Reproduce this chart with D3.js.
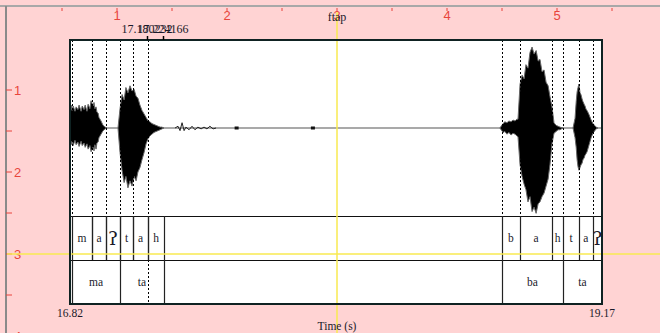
<!DOCTYPE html>
<html>
<head>
<meta charset="utf-8">
<script src="https://cdn.jsdelivr.net/npm/d3@7"></script>
<style>
  body { margin: 0; background: #ffd3d3; }
  svg { display: block; }
  text { font-family: "Liberation Serif", "DejaVu Serif", serif; fill: #1a1a2a; }
</style>
</head>
<body>
<div id="picture"></div>
<script>
// time domain of the drawing
var time_domain = [16.82, 19.17];

// tier 1 (phones)
var phone_labels = ['m', 'a', 'ʔ', 't', 'a', 'h', 'b', 'a', 'h', 't', 'a', 'ʔ'];
var phone_starts = [16.829, 16.917, 16.979, 17.041, 17.098, 17.165, 18.728, 18.808, 18.949, 18.998, 19.068, 19.130];
var phone_ends   = [16.917, 16.979, 17.041, 17.098, 17.165, 17.235, 18.808, 18.949, 18.998, 19.068, 19.130, 19.170];

// tier 2 (syllables)
var syl_labels = ['ma', 'ta', 'ba', 'ta'];
var syl_starts = [16.829, 17.041, 18.728, 18.998];
var syl_ends   = [17.041, 17.235, 18.998, 19.170];

// selection marks on top
var mark_times  = [17.160, 17.231];
var mark_labels = ['17.180232', '17.224166'];

// waveform envelope: [time, max, min]
var burst_ma1 = [[16.820,0.18,-0.16],[16.825,0.26,-0.19],[16.829,0.20,-0.15],[16.834,0.25,-0.20],[16.842,0.19,-0.14],
                 [16.847,0.24,-0.19],[16.855,0.21,-0.16],[16.860,0.26,-0.21],[16.869,0.19,-0.15],[16.874,0.25,-0.20],
                 [16.882,0.21,-0.17],[16.887,0.26,-0.22],[16.895,0.19,-0.18],[16.900,0.27,-0.24],[16.908,0.22,-0.20],
                 [16.913,0.31,-0.27],[16.922,0.25,-0.22],[16.926,0.29,-0.26],[16.930,0.22,-0.19],[16.935,0.24,-0.24],
                 [16.939,0.18,-0.17],[16.944,0.17,-0.16],[16.948,0.12,-0.11],[16.957,0.08,-0.07],[16.966,0.03,-0.03],
                 [16.975,0.01,-0.01],[16.983,0,0]];
var burst_ta1 = [[17.032,0,0],[17.041,0.22,-0.28],[17.050,0.38,-0.48],[17.059,0.32,-0.62],[17.067,0.46,-0.55],
                 [17.076,0.40,-0.68],[17.085,0.48,-0.60],[17.094,0.42,-0.66],[17.103,0.44,-0.55],[17.112,0.36,-0.60],
                 [17.120,0.34,-0.50],[17.129,0.26,-0.45],[17.138,0.20,-0.36],[17.147,0.16,-0.28],[17.156,0.12,-0.18],
                 [17.165,0.08,-0.12],[17.173,0.07,-0.09],[17.182,0.05,-0.07],[17.191,0.04,-0.05],[17.200,0.03,-0.04],
                 [17.209,0.02,-0.03],[17.218,0.01,-0.02],[17.226,0.01,-0.01],[17.235,0,0]];
var burst_ba2 = [[18.719,0,0],[18.733,0.05,-0.05],[18.741,0.07,-0.04],[18.750,0.06,-0.07],[18.759,0.08,-0.05],
                 [18.768,0.07,-0.08],[18.777,0.09,-0.06],[18.786,0.08,-0.07],[18.794,0.10,-0.09],
                 [18.799,0.10,-0.10],[18.808,0.50,-0.42],[18.817,0.60,-0.55],[18.826,0.56,-0.64],[18.834,0.72,-0.70],
                 [18.843,0.68,-0.84],[18.852,0.86,-0.78],[18.861,0.92,-0.95],[18.870,0.84,-0.90],[18.879,0.88,-0.97],
                 [18.888,0.76,-0.86],[18.896,0.78,-0.84],[18.905,0.64,-0.78],[18.914,0.66,-0.74],[18.923,0.52,-0.66],
                 [18.932,0.48,-0.58],[18.940,0.36,-0.42],[18.949,0.24,-0.18],[18.958,0.06,-0.06],[18.967,0.03,-0.04],
                 [18.976,0.02,-0.02],[18.984,0.01,-0.02],[18.998,0,0]];
var burst_ta2 = [[19.042,0,0],[19.051,0.11,-0.11],[19.056,0.30,-0.22],[19.060,0.41,-0.36],[19.064,0.46,-0.44],
                 [19.068,0.50,-0.48],[19.073,0.40,-0.45],[19.077,0.38,-0.42],[19.082,0.33,-0.40],[19.086,0.30,-0.36],
                 [19.091,0.27,-0.34],[19.095,0.25,-0.31],[19.100,0.21,-0.29],[19.104,0.20,-0.27],[19.113,0.15,-0.19],
                 [19.122,0.09,-0.11],[19.130,0.05,-0.06],[19.144,0.01,-0.01],[19.152,0,0]];

// low level ripple after "tah": [time, value]
var ripple = [[17.284,0],[17.297,0.02],[17.306,-0.03],[17.315,0.06],[17.324,-0.03],[17.332,0.01],[17.346,-0.02],
              [17.359,0.02],[17.372,-0.02],[17.385,0.01],[17.399,-0.01],[17.412,0.01],[17.425,-0.01],[17.438,0.02],
              [17.452,-0.01],[17.465,0]];
var blips = [17.556, 17.893];

// rulers (inches)
var ruler_x_ticks = [0.5, 1, 1.5, 2, 2.5, 3, 3.5, 4, 4.5, 5, 5.5];
var ruler_x_labels = [1, 2, 3, 4, 5];
var ruler_y_ticks = [1, 1.5, 2, 2.5, 3, 3.5, 4];
var ruler_y_labels = [1, 2, 3, 4];

var width = 660, height = 333;
var box = { left: 70, right: 602, top: 40, bottom: 304 };
var tier1_top = 216, tier2_top = 260;

var svg = d3.select('#picture').append('svg')
    .attr('width', width)
    .attr('height', height);

var ruler_x = d3.scaleLinear().domain([0, 6]).range([7, 667]);
var ruler_y = d3.scaleLinear().domain([0, 4]).range([8, 336]);

var x = d3.scaleLinear().domain(time_domain).range([box.left, box.right]);
var y = d3.scaleLinear().domain([-1, 1]).range([tier1_top, box.top]);

// ruler frame
svg.append('line').attr('x1', 0).attr('x2', width).attr('y1', 6).attr('y2', 6)
   .attr('stroke', '#a8a8a8').attr('stroke-width', 2);
svg.append('line').attr('x1', 6).attr('x2', 6).attr('y1', 6).attr('y2', height)
   .attr('stroke', '#8a8a8a').attr('stroke-width', 2);

var red = '#e8453c';
svg.append('g').selectAll('line').data(ruler_x_ticks).join('line')
   .attr('x1', d => ruler_x(d)).attr('x2', d => ruler_x(d))
   .attr('y1', 8).attr('y2', 11)
   .attr('stroke', red);
svg.append('g').selectAll('text').data(ruler_x_labels).join('text')
   .attr('x', d => ruler_x(d)).attr('y', 20)
   .attr('text-anchor', 'middle')
   .style('font-family', 'Liberation Sans, Arial, sans-serif')
   .style('font-size', '13px').style('fill', red)
   .text(d => d);
svg.append('g').selectAll('line').data(ruler_y_ticks).join('line')
   .attr('x1', 6).attr('x2', 12)
   .attr('y1', d => ruler_y(d)).attr('y2', d => ruler_y(d))
   .attr('stroke', red);
svg.append('g').selectAll('text').data(ruler_y_labels).join('text')
   .attr('x', 14).attr('y', d => ruler_y(d) + 5)
   .style('font-family', 'Liberation Sans, Arial, sans-serif')
   .style('font-size', '13px').style('fill', red)
   .text(d => d);

// white drawing box
svg.append('rect')
   .attr('x', box.left).attr('y', box.top)
   .attr('width', box.right - box.left).attr('height', box.bottom - box.top)
   .attr('fill', '#fff');

// baseline
svg.append('line')
   .attr('x1', x(time_domain[0])).attr('x2', x(time_domain[1]))
   .attr('y1', y(0)).attr('y2', y(0))
   .attr('stroke', '#8c8c8c').attr('stroke-width', 1.5);

var area = d3.area()
    .x(d => x(d[0]))
    .y0(d => y(d[2]))
    .y1(d => y(d[1]));

svg.append('g').selectAll('path')
   .data([burst_ma1, burst_ta1, burst_ba2, burst_ta2]).join('path')
   .attr('d', area)
   .attr('fill', '#000')
   .attr('stroke', '#666')
   .attr('stroke-width', 1);

svg.append('path')
   .attr('d', d3.line().x(d => x(d[0])).y(d => y(d[1]))(ripple))
   .attr('fill', 'none').attr('stroke', '#222').attr('stroke-width', 1);

svg.append('g').selectAll('rect').data(blips).join('rect')
   .attr('x', d => x(d) - 2).attr('y', y(0) - 1.5)
   .attr('width', 4).attr('height', 3)
   .attr('fill', '#111');

// dotted boundary lines through the waveform
svg.append('g').selectAll('line').data(phone_starts).join('line')
   .attr('x1', d => Math.round(x(d)) + 0.5).attr('x2', d => Math.round(x(d)) + 0.5)
   .attr('y1', box.top).attr('y2', tier1_top)
   .attr('stroke', '#000').attr('stroke-dasharray', '2,2');

// dotted cursor through tier 2
svg.append('line')
   .attr('x1', Math.round(x(phone_starts[5])) + 0.5).attr('x2', Math.round(x(phone_starts[5])) + 0.5)
   .attr('y1', tier2_top).attr('y2', box.bottom)
   .attr('stroke', '#000').attr('stroke-dasharray', '2,2');

// tiers
svg.append('g').selectAll('line').data([tier1_top, tier2_top]).join('line')
   .attr('x1', box.left).attr('x2', box.right)
   .attr('y1', d => d + 0.5).attr('y2', d => d + 0.5)
   .attr('stroke', '#111').attr('stroke-width', 1.2);

var tier1_bounds = phone_starts.concat(phone_ends.slice(0, 6));
svg.append('g').selectAll('line').data(tier1_bounds).join('line')
   .attr('x1', d => Math.round(x(d)) + 0.5).attr('x2', d => Math.round(x(d)) + 0.5)
   .attr('y1', tier1_top).attr('y2', tier2_top)
   .attr('stroke', '#222').attr('stroke-width', 1.2);

var tier2_bounds = syl_starts.concat([syl_ends[1]]);
svg.append('g').selectAll('line').data(tier2_bounds).join('line')
   .attr('x1', d => Math.round(x(d)) + 0.5).attr('x2', d => Math.round(x(d)) + 0.5)
   .attr('y1', tier2_top).attr('y2', box.bottom)
   .attr('stroke', '#222').attr('stroke-width', 1.2);

svg.append('g').selectAll('text').data(phone_labels).join('text')
   .attr('x', (d, i) => (x(phone_starts[i]) + x(phone_ends[i])) / 2)
   .attr('y', d => d === 'ʔ' ? 245 : 242)
   .attr('text-anchor', 'middle')
   .style('font-size', d => d === 'ʔ' ? '19px' : '11.5px')
   .style('font-family', d => d === 'ʔ' ? 'DejaVu Serif, serif' : null)
   .text(d => d);

svg.append('g').selectAll('text').data(syl_labels).join('text')
   .attr('x', (d, i) => (x(syl_starts[i]) + x(syl_ends[i])) / 2)
   .attr('y', 286)
   .attr('text-anchor', 'middle')
   .style('font-size', '11.5px')
   .text(d => d);

// yellow crosshair
svg.append('line').attr('x1', ruler_x(3)).attr('x2', ruler_x(3)).attr('y1', 12).attr('y2', height)
   .attr('stroke', '#f8ea50').attr('stroke-width', 1.5);
svg.append('line').attr('x1', 7).attr('x2', width).attr('y1', ruler_y(3)).attr('y2', ruler_y(3))
   .attr('stroke', '#f8ea50').attr('stroke-width', 1.5);

// box frame
svg.append('rect')
   .attr('x', box.left).attr('y', box.top)
   .attr('width', box.right - box.left).attr('height', box.bottom - box.top)
   .attr('fill', 'none').attr('stroke', '#0f2222').attr('stroke-width', 2);

// selection marks above the box
svg.append('g').selectAll('line').data(mark_times).join('line')
   .attr('x1', d => Math.round(x(d)) + 0.5).attr('x2', d => Math.round(x(d)) + 0.5)
   .attr('y1', box.top - 4).attr('y2', box.top)
   .attr('stroke', '#000').attr('stroke-width', 1.5);
svg.append('g').selectAll('text').data(mark_labels).join('text')
   .attr('x', (d, i) => x(mark_times[i]))
   .attr('y', 33)
   .attr('text-anchor', 'middle')
   .style('font-size', '12px')
   .text(d => d);

// title and time axis labels
svg.append('text').attr('x', ruler_x(3)).attr('y', 21).attr('text-anchor', 'middle')
   .style('font-size', '12px').text('ftap');
svg.append('text').attr('x', x(time_domain[0])).attr('y', 317).attr('text-anchor', 'middle')
   .style('font-size', '11.5px').text(d3.format('.2f')(time_domain[0]));
svg.append('text').attr('x', x(time_domain[1])).attr('y', 317).attr('text-anchor', 'middle')
   .style('font-size', '11.5px').text(d3.format('.2f')(time_domain[1]));
svg.append('text').attr('x', ruler_x(3)).attr('y', 330).attr('text-anchor', 'middle')
   .style('font-size', '11.5px').text('Time (s)');
</script>
</body>
</html>
